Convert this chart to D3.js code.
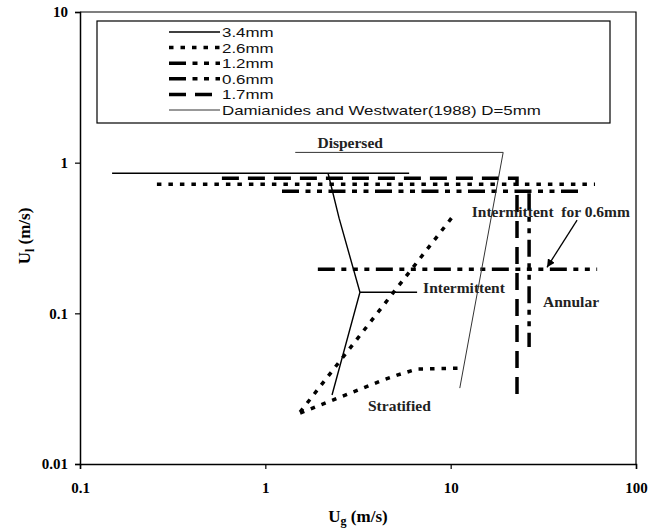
<!DOCTYPE html>
<html>
<head>
<meta charset="utf-8">
<script src="https://cdn.jsdelivr.net/npm/d3@7"></script>
<style>
  body { margin: 0; background: #fff; }
  svg { display: block; }
</style>
</head>
<body>
<svg id="chart"></svg>
<script>
// tick values
const ugTicks = [0.1, 1, 10, 100];
const ulTicks = [0.01, 0.1, 1, 10];

// series (null = break between segments)
const ug34 = [0.149, 5.97, null, 2.18, 2.50, 3.24, 2.29, null, 3.24, 6.59];
const ul34 = [0.851, 0.851, null, 0.851, 0.428, 0.138, 0.0287, null, 0.138, 0.138];
const ug26 = [0.26, 60.1, null, 1.54, 10.3, null, 1.54, 4.32, 5.14, 6.59, 11.2];
const ul26 = [0.72, 0.72, null, 0.0221, 0.442, null, 0.0218, 0.0361, 0.0389, 0.0427, 0.0433];
const ug12 = [1.23, 49.9, null, 26.5, 26.5];
const ul12 = [0.645, 0.645, null, 0.627, 0.0597];
const ug06 = [1.92, 61.7];
const ul06 = [0.196, 0.196];
const ug17 = [0.583, 22.8, 22.8];
const ul17 = [0.789, 0.789, 0.0278];
const ugDW = [1.45, 19.2, 11.2];
const ulDW = [1.17, 1.17, 0.0319];

// regime labels
const regimeText = ["Dispersed", "Intermittent  for 0.6mm", "Intermittent", "Annular", "Stratified"];
const regimeUg = [2.87, 13.0, 7.10, 31.5, 3.58];
const regimeUl = [1.36, 0.469, 0.147, 0.119, 0.0243];
const regimeAnchor = ["middle", "start", "start", "start", "start"];
// arrow for "Intermittent for 0.6mm"
const arrowUg = [48.1, 33.1];
const arrowUl = [0.415, 0.202];

const width = 664, height = 532;
const margin = {top: 12, right: 28, bottom: 68, left: 80};

const series = [
  {name: "3.4mm", ug: ug34, ul: ul34, w: 1.4, dash: null, color: "#000"},
  {name: "2.6mm", ug: ug26, ul: ul26, w: 3.5, dash: "4.5,7", color: "#000"},
  {name: "1.2mm", ug: ug12, ul: ul12, w: 3.5, dash: "17,6.5,5,6.5,5,6.5", color: "#000"},
  {name: "0.6mm", ug: ug06, ul: ul06, w: 3.5, dash: "17,6.5,5,6.5,5,6.5,5,6.5", color: "#000"},
  {name: "1.7mm", ug: ug17, ul: ul17, w: 3.5, dash: "17,9", color: "#000"},
  {name: "Damianides and Westwater(1988) D=5mm", ug: ugDW, ul: ulDW, w: 1, dash: null, color: "#333"}
];

const svg = d3.select("#chart").attr("width", width).attr("height", height);

let x = d3.scaleLog().domain([0.1, 100]).range([margin.left, width - margin.right]);
let y = d3.scaleLog().domain([0.01, 10]).range([height - margin.bottom, margin.top]);

const serif = "'Liberation Serif', 'Times New Roman', serif";

// frame top/right
svg.append("path")
  .attr("d", `M${x(0.1)},${y(10)}H${x(100)}V${y(0.01)}`)
  .attr("fill", "none").attr("stroke", "#000").attr("stroke-width", 1.2);

let xAxis = d3.axisBottom(x).tickValues(ugTicks).tickFormat(d => String(d)).tickSize(5).tickPadding(13);
let yAxis = d3.axisLeft(y).tickValues(ulTicks).tickFormat(d => String(d)).tickSize(5).tickPadding(7);

const gx = svg.append("g").attr("transform", `translate(0, ${y(0.01)})`).call(xAxis);
const gy = svg.append("g").attr("transform", `translate(${x(0.1)}, 0)`).call(yAxis);
[gx, gy].forEach(g => {
  g.select(".domain").attr("stroke-width", 1.5);
  g.selectAll("line").attr("stroke-width", 1.2);
  g.selectAll("text").attr("font-family", serif).attr("font-weight", "bold").attr("font-size", 15).attr("fill", "#000");
});

// axis titles
const xt = svg.append("text").attr("x", 358).attr("y", 522)
  .attr("text-anchor", "middle").attr("font-family", serif).attr("font-weight", "bold").attr("font-size", 17);
xt.append("tspan").text("U");
xt.append("tspan").attr("font-size", 12).attr("dy", 3).text("g");
xt.append("tspan").attr("dy", -3).text(" (m/s)");

const yt = svg.append("text").attr("transform", "translate(30, 236) rotate(-90)")
  .attr("text-anchor", "middle").attr("font-family", serif).attr("font-weight", "bold").attr("font-size", 17);
yt.append("tspan").text("U");
yt.append("tspan").attr("font-size", 12).attr("dy", 4).text("l");
yt.append("tspan").attr("dy", -4).text(" (m/s)");

// lines
const line = d3.line()
  .defined(d => d[0] != null && d[1] != null)
  .x(d => x(d[0])).y(d => y(d[1]));

svg.append("g").selectAll("path").data(series).enter().append("path")
  .attr("d", s => line(s.ug.map((v, i) => [v, s.ul[i]])))
  .attr("fill", "none")
  .attr("stroke", s => s.color)
  .attr("stroke-width", s => s.w)
  .attr("stroke-dasharray", s => s.dash);

// regime labels
svg.append("g").selectAll("text").data(regimeText).enter().append("text")
  .attr("x", (d, i) => x(regimeUg[i]))
  .attr("y", (d, i) => y(regimeUl[i]))
  .attr("dy", "0.33em")
  .attr("text-anchor", (d, i) => regimeAnchor[i])
  .attr("font-family", serif).attr("font-weight", "bold").attr("font-size", 15.5)
  .attr("fill", "#222")
  .style("white-space", "pre")
  .attr("xml:space", "preserve")
  .text(d => d);

// arrow
svg.append("defs").append("marker")
  .attr("id", "ah").attr("viewBox", "0 0 10 10").attr("refX", 10).attr("refY", 5)
  .attr("markerWidth", 8).attr("markerHeight", 8).attr("markerUnits", "userSpaceOnUse")
  .attr("orient", "auto")
  .append("path").attr("d", "M0,0L10,5L0,10z").attr("fill", "#000");
svg.append("line")
  .attr("x1", x(arrowUg[0])).attr("y1", y(arrowUl[0]))
  .attr("x2", x(arrowUg[1])).attr("y2", y(arrowUl[1]))
  .attr("stroke", "#000").attr("stroke-width", 1.3).attr("marker-end", "url(#ah)");

// legend
const legend = svg.append("g");
legend.append("rect").attr("x", 97).attr("y", 21).attr("width", 513).attr("height", 102)
  .attr("fill", "#fff").attr("stroke", "#000").attr("stroke-width", 1.2);
const rows = legend.selectAll("g.row").data(series).enter().append("g")
  .attr("class", "row")
  .attr("transform", (d, i) => `translate(0, ${32 + i * 15.6})`);
rows.append("line").attr("x1", 169).attr("x2", 220).attr("y1", 0).attr("y2", 0)
  .attr("stroke", d => d.color)
  .attr("stroke-width", d => d.w === 1.4 ? 1.3 : d.w)
  .attr("stroke-dasharray", d => d.dash);
rows.append("text")
  .attr("transform", "translate(222, 5) scale(1.25, 1)")
  .attr("font-family", "'Liberation Sans', Arial, sans-serif")
  .attr("font-size", 13.5).attr("fill", "#111")
  .text(d => d.name);
</script>
</body>
</html>
